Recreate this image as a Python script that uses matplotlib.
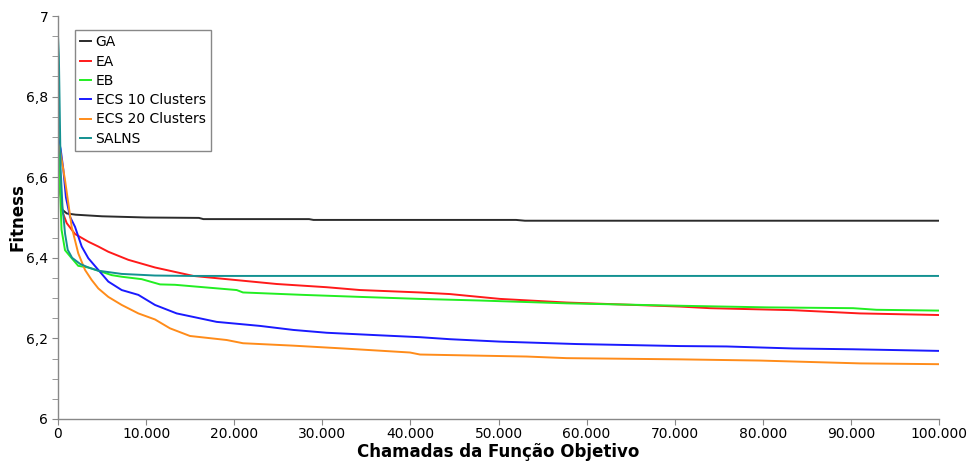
import matplotlib
matplotlib.use('Agg')
import matplotlib.pyplot as plt
from matplotlib.ticker import FuncFormatter, MultipleLocator

# --- convergence data (calls to objective function x fitness) ---
labels = ['GA', 'EA', 'EB', 'ECS 10 Clusters', 'ECS 20 Clusters', 'SALNS']
colors = ['#2b2b2b', '#ff1a1a', '#22ee22', '#1a1aff', '#ff8c1a', '#139191']

ga_x = [0, 200, 450, 1000, 2000, 5000, 10000, 16000, 16500, 28500, 29000, 52000, 53000, 100000]
ga_y = [6.735, 6.58, 6.52, 6.51, 6.507, 6.503, 6.500, 6.499, 6.496, 6.496, 6.494, 6.494, 6.492, 6.492]

ea_x = [0, 200, 420, 990, 1930, 3440, 4575, 5710, 7980, 11010, 13280, 15360, 19150, 24820,
        30500, 34280, 41090, 44490, 50170, 57740, 70600, 74000, 83450, 91030, 100000]
ea_y = [6.713, 6.60, 6.519, 6.486, 6.459, 6.440, 6.428, 6.415, 6.395, 6.376, 6.365, 6.355, 6.347, 6.335,
        6.327, 6.320, 6.314, 6.310, 6.298, 6.289, 6.279, 6.275, 6.270, 6.262, 6.258]

eb_x = [0, 150, 400, 795, 1360, 2300, 3440, 4575, 6090, 7230, 9500, 11580, 13280, 20280, 21000,
        27800, 34280, 41090, 47900, 57740, 70600, 80440, 90240, 92900, 100000]
eb_y = [6.82, 6.62, 6.47, 6.419, 6.404, 6.380, 6.376, 6.368, 6.357, 6.353, 6.347, 6.334, 6.333, 6.320, 6.314,
        6.308, 6.303, 6.298, 6.294, 6.287, 6.281, 6.277, 6.275, 6.271, 6.269]

ecs10_x = [0, 300, 600, 900, 1360, 1930, 2690, 3440, 4575, 5710, 7230, 9120, 11010, 13470, 18010,
           22930, 26710, 30500, 36180, 41090, 44490, 50170, 58870, 70600, 75900, 83460, 90270, 100000]
ecs10_y = [6.70, 6.67, 6.62, 6.55, 6.502, 6.477, 6.428, 6.399, 6.370, 6.341, 6.320, 6.308, 6.283, 6.262, 6.241,
           6.231, 6.221, 6.214, 6.208, 6.203, 6.198, 6.192, 6.186, 6.181, 6.180, 6.175, 6.173, 6.169]

ecs20_x = [0, 227, 795, 1550, 2300, 3065, 3820, 4575, 5710, 7230, 9120, 11010, 12710, 14980, 19150,
           21000, 26710, 32380, 39950, 41090, 48280, 53200, 57740, 70600, 79680, 91030, 100000]
ecs20_y = [6.685, 6.668, 6.593, 6.477, 6.411, 6.370, 6.345, 6.324, 6.303, 6.283, 6.262, 6.247, 6.225, 6.206, 6.196,
           6.188, 6.182, 6.175, 6.165, 6.160, 6.157, 6.155, 6.151, 6.148, 6.145, 6.138, 6.136]

salns_x = [0, 100, 300, 500, 800, 1100, 1600, 2500, 3440, 4575, 7230, 11000, 15000, 100000]
salns_y = [6.95, 6.90, 6.62, 6.53, 6.46, 6.42, 6.40, 6.385, 6.376, 6.368, 6.360, 6.356, 6.355, 6.355]

series = [(ga_x, ga_y), (ea_x, ea_y), (eb_x, eb_y),
          (ecs10_x, ecs10_y), (ecs20_x, ecs20_y), (salns_x, salns_y)]

# --- plot ---
fig = plt.figure(figsize=(9.73, 4.63), dpi=100)
ax = fig.add_axes([58 / 973, 1 - 419 / 463, (939 - 58) / 973, (419 - 16) / 463])

for (xs, ys), lab, col in zip(series, labels, colors):
    ax.plot(xs, ys, color=col, linewidth=1.4, label=lab)

ax.set_xlim(0, 100000)
ax.set_ylim(6, 7)

for side in ['top', 'right']:
    ax.spines[side].set_visible(False)
for side in ['left', 'bottom']:
    ax.spines[side].set_color('#888888')
    ax.spines[side].set_linewidth(1.0)

ax.xaxis.set_major_locator(MultipleLocator(10000))
ax.yaxis.set_major_locator(MultipleLocator(0.2))
ax.yaxis.set_minor_locator(MultipleLocator(0.05))
ax.xaxis.set_major_formatter(FuncFormatter(lambda v, p: f'{int(v):,}'.replace(',', '.')))
ax.yaxis.set_major_formatter(FuncFormatter(lambda v, p: f'{v:g}'.replace('.', ',')))
ax.tick_params(axis='both', which='both', color='#888888', labelsize=10, length=4, pad=2)
ax.tick_params(axis='y', which='major', pad=3)

ax.set_xlabel('Chamadas da Função Objetivo', fontsize=12, fontweight='bold', labelpad=1)
ax.set_ylabel('Fitness', fontsize=12, fontweight='bold', labelpad=0)

leg = ax.legend(loc='upper left', bbox_to_anchor=(0.019, 0.966), borderaxespad=0,
                fontsize=10, handlelength=0.75, handletextpad=0.35, labelspacing=0.38,
                fancybox=False, framealpha=1, edgecolor='#888888', borderpad=0.4)
leg.get_frame().set_linewidth(1.0)

plt.savefig('out.png', dpi=100)
